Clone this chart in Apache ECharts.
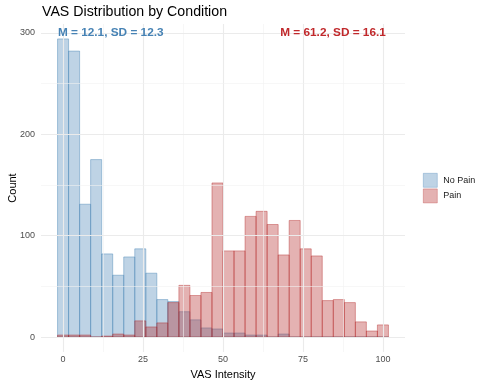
<!DOCTYPE html>
<html><head><meta charset="utf-8">
<script src="https://cdn.jsdelivr.net/npm/echarts@6/dist/echarts.min.js"></script>
<style>html,body{margin:0;padding:0;background:#fff}#c{width:488px;height:386px}</style>
</head><body><div id="c"></div>
<script>
// Histogram bin centers (VAS Intensity), 30 bins
const binCenters = [0, 3.45, 6.9, 10.34, 13.79, 17.24, 20.69, 24.14, 27.59, 31.03,
  34.48, 37.93, 41.38, 44.83, 48.28, 51.72, 55.17, 58.62, 62.07, 65.52,
  68.97, 72.41, 75.86, 79.31, 82.76, 86.21, 89.66, 93.10, 96.55, 100];
const binWidth = 3.448;
const noPainCounts = [294, 282, 131, 175, 82, 61, 79, 87, 63, 37,
  35, 25, 17, 9, 8, 4, 4, 2, 2, 0,
  3, 0, 0, 0, 0, 0, 0, 0, 0, 0];
const painCounts = [2, 2, 2, 0, 1, 3, 2, 16, 10, 14,
  34, 51, 41, 44, 152, 85, 85, 119, 124, 111,
  81, 115, 87, 80, 36, 37, 34, 15, 6, 12];
const xTicks = [0, 25, 50, 75, 100];
const yTicks = [0, 100, 200, 300];
const xGridMinor = [12.5, 37.5, 62.5, 87.5];
const yGridMinor = [50, 150, 250];
const annotations = [
  {text: 'M = 12.1, SD = 12.3', x: -1.6, y: 300, align: 'left', color: '#4682B4'},
  {text: 'M = 61.2, SD = 16.1', x: 100.9, y: 300, align: 'right', color: '#C0282B'}
];

const FONT = 'Liberation Sans, Arial, sans-serif';
const chart = echarts.init(document.getElementById('c'), null, {renderer: 'canvas'});

function histSeries(name, counts, fill, stroke, z) {
  return {
    type: 'custom', name: name, z: z,
    itemStyle: {color: fill, borderColor: stroke, borderWidth: 0.6},
    data: binCenters.map((c, i) => [c, counts[i]]),
    renderItem: function (params, api) {
      const c = api.value(0), v = api.value(1);
      const p0 = api.coord([c - binWidth / 2, v]);
      const p1 = api.coord([c + binWidth / 2, 0]);
      return {
        type: 'rect',
        shape: {x: p0[0], y: p0[1], width: p1[0] - p0[0], height: p1[1] - p0[1]},
        style: {fill: fill, stroke: stroke, lineWidth: 0.8}
      };
    }
  };
}

const gridLineSeries = {
  type: 'line', data: [], silent: true, z: 0,
  markLine: {
    silent: true, symbol: 'none', animation: false,
    label: {show: false},
    data: [].concat(
      xTicks.map(v => ({xAxis: v, lineStyle: {color: '#EBEBEB', width: 1.1, type: 'solid'}})),
      xGridMinor.map(v => ({xAxis: v, lineStyle: {color: '#F2F2F2', width: 0.6, type: 'solid'}})),
      yTicks.map(v => ({yAxis: v, lineStyle: {color: '#EBEBEB', width: 1.1, type: 'solid'}})),
      yGridMinor.map(v => ({yAxis: v, lineStyle: {color: '#F2F2F2', width: 0.6, type: 'solid'}}))
    )
  }
};

const annoSeries = annotations.map(a => ({
  type: 'scatter', symbolSize: 0, z: 10, silent: true,
  itemStyle: {opacity: 1},
  data: [[a.x, a.y]],
  label: {show: true, position: 'inside', align: a.align, verticalAlign: 'middle',
    formatter: a.text, color: a.color, fontWeight: 'bold', fontSize: 11.8, fontFamily: FONT}
}));

chart.setOption({
  animation: false,
  textStyle: {fontFamily: FONT},
  title: {text: 'VAS Distribution by Condition', left: 42, top: 5, padding: 0,
    textStyle: {fontSize: 14.2, fontWeight: 'normal', color: '#000', fontFamily: FONT}},
  grid: {left: 41, right: 83, top: 24, bottom: 34, outerBoundsMode: 'none', containLabel: false},
  legend: {
    orient: 'vertical', left: 423, top: 173, itemWidth: 14, itemHeight: 14, itemGap: 1,
    icon: 'rect', padding: 0,
    itemStyle: {borderWidth: 0.6},
    data: ['No Pain', 'Pain'],
    textStyle: {fontSize: 9, color: '#1a1a1a', fontFamily: FONT, padding: [0, 0, 0, 1]}
  },
  xAxis: {
    type: 'value', min: -6.9, max: 106.9,
    name: 'VAS Intensity', nameLocation: 'middle', nameGap: 17, nameMoveOverlap: false,
    nameTextStyle: {fontSize: 11, color: '#000', fontFamily: FONT},
    axisLine: {show: false}, axisTick: {show: false}, splitLine: {show: false},
    axisLabel: {customValues: xTicks, color: '#4D4D4D', fontSize: 9, margin: 3, fontFamily: FONT}
  },
  yAxis: {
    type: 'value', min: -14.7, max: 308.7,
    name: 'Count', nameLocation: 'middle', nameGap: 23, nameRotate: 90, nameMoveOverlap: false,
    nameTextStyle: {fontSize: 11, color: '#000', fontFamily: FONT},
    axisLine: {show: false}, axisTick: {show: false}, splitLine: {show: false},
    axisLabel: {customValues: yTicks, color: '#4D4D4D', fontSize: 9, margin: 6, fontFamily: FONT}
  },
  series: [
    gridLineSeries,
    histSeries('No Pain', noPainCounts, 'rgba(70,130,180,0.35)', 'rgba(70,130,180,0.55)', 2),
    histSeries('Pain', painCounts, 'rgba(178,34,34,0.35)', 'rgba(178,34,34,0.5)', 3)
  ].concat(annoSeries)
});
</script></body></html>
